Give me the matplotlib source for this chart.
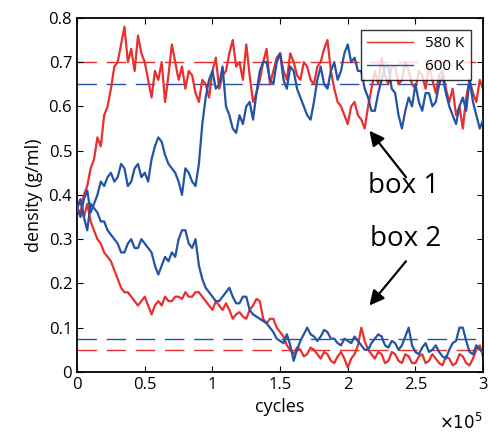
import matplotlib.pyplot as plt
import numpy as np

plt.rcParams['font.family'] = ['Open Sans', 'DejaVu Sans']

# cycles in units of 1e5, sampled every 2500 cycles
cycles = np.arange(121) * 0.025

red_box1 = [0.37, 0.36, 0.40, 0.42, 0.46, 0.48, 0.53, 0.51, 0.58, 0.60,
            0.64, 0.69, 0.70, 0.74, 0.78, 0.70, 0.73, 0.68, 0.76, 0.72,
            0.70, 0.66, 0.62, 0.68, 0.66, 0.70, 0.61, 0.67, 0.74, 0.70,
            0.66, 0.69, 0.64, 0.68, 0.67, 0.63, 0.61, 0.66, 0.65, 0.62,
            0.68, 0.71, 0.64, 0.67, 0.68, 0.72, 0.75, 0.69, 0.70, 0.66,
            0.74, 0.67, 0.61, 0.63, 0.66, 0.70, 0.73, 0.65, 0.68, 0.71,
            0.72, 0.68, 0.66, 0.72, 0.70, 0.67, 0.66, 0.70, 0.69, 0.66,
            0.65, 0.69, 0.70, 0.73, 0.75, 0.68, 0.64, 0.61, 0.60, 0.58,
            0.56, 0.60, 0.61, 0.58, 0.57, 0.55, 0.60, 0.64, 0.68, 0.65,
            0.71, 0.67, 0.65, 0.69, 0.69, 0.65, 0.66, 0.70, 0.68, 0.65,
            0.64, 0.68, 0.67, 0.64, 0.69, 0.66, 0.63, 0.67, 0.68, 0.64,
            0.61, 0.64, 0.58, 0.60, 0.55, 0.62, 0.66, 0.63, 0.61, 0.66,
            0.64]
red_box2 = [0.37, 0.39, 0.35, 0.38, 0.34, 0.32, 0.30, 0.29, 0.27, 0.26,
            0.25, 0.23, 0.21, 0.19, 0.18, 0.18, 0.17, 0.16, 0.15, 0.16,
            0.17, 0.15, 0.13, 0.15, 0.16, 0.15, 0.17, 0.16, 0.16, 0.17,
            0.17, 0.165, 0.18, 0.17, 0.17, 0.18, 0.18, 0.17, 0.16, 0.15,
            0.14, 0.16, 0.15, 0.14, 0.155, 0.14, 0.12, 0.13, 0.135, 0.125,
            0.12, 0.14, 0.15, 0.165, 0.16, 0.12, 0.11, 0.12, 0.12, 0.10,
            0.09, 0.08, 0.06, 0.05, 0.04, 0.055, 0.05, 0.035, 0.04, 0.055,
            0.05, 0.04, 0.03, 0.045, 0.04, 0.025, 0.02, 0.035, 0.045, 0.03,
            0.01, 0.03, 0.04, 0.06, 0.10, 0.07, 0.05, 0.04, 0.03, 0.045,
            0.04, 0.02, 0.025, 0.045, 0.04, 0.025, 0.02, 0.04, 0.035, 0.02,
            0.02, 0.035, 0.04, 0.02, 0.025, 0.04, 0.03, 0.02, 0.015, 0.035,
            0.03, 0.015, 0.02, 0.04, 0.035, 0.02, 0.015, 0.03, 0.05, 0.06,
            0.035]
blue_box1 = [0.37, 0.35, 0.39, 0.41, 0.36, 0.38, 0.40, 0.43, 0.42, 0.44,
             0.45, 0.43, 0.44, 0.47, 0.46, 0.42, 0.43, 0.46, 0.47, 0.44,
             0.45, 0.43, 0.48, 0.51, 0.53, 0.52, 0.49, 0.47, 0.46, 0.45,
             0.43, 0.40, 0.46, 0.45, 0.43, 0.42, 0.47, 0.56, 0.62, 0.66,
             0.68, 0.64, 0.65, 0.69, 0.60, 0.58, 0.55, 0.54, 0.58, 0.56,
             0.60, 0.61, 0.57, 0.63, 0.68, 0.70, 0.70, 0.66, 0.65, 0.70,
             0.72, 0.66, 0.64, 0.69, 0.68, 0.64, 0.62, 0.60, 0.58, 0.57,
             0.61, 0.66, 0.69, 0.65, 0.64, 0.68, 0.70, 0.66, 0.68, 0.72,
             0.74, 0.70, 0.71, 0.68, 0.68, 0.64, 0.62, 0.59, 0.59, 0.63,
             0.66, 0.69, 0.69, 0.64, 0.63, 0.58, 0.55, 0.59, 0.62, 0.60,
             0.65, 0.61, 0.59, 0.63, 0.63, 0.60, 0.61, 0.65, 0.67, 0.63,
             0.60, 0.58, 0.56, 0.60, 0.62, 0.59, 0.66, 0.61, 0.58, 0.55,
             0.57]
blue_box2 = [0.37, 0.39, 0.35, 0.32, 0.38, 0.37, 0.36, 0.34, 0.34, 0.32,
             0.31, 0.30, 0.29, 0.27, 0.27, 0.29, 0.30, 0.28, 0.28, 0.30,
             0.29, 0.28, 0.27, 0.24, 0.22, 0.24, 0.26, 0.25, 0.27, 0.26,
             0.30, 0.32, 0.32, 0.29, 0.28, 0.30, 0.24, 0.21, 0.19, 0.18,
             0.17, 0.16, 0.16, 0.17, 0.18, 0.19, 0.17, 0.155, 0.155, 0.17,
             0.17, 0.14, 0.13, 0.125, 0.12, 0.115, 0.11, 0.10, 0.09, 0.075,
             0.07, 0.065, 0.085, 0.06, 0.025, 0.05, 0.07, 0.085, 0.10, 0.085,
             0.08, 0.07, 0.08, 0.095, 0.09, 0.075, 0.075, 0.065, 0.06, 0.075,
             0.07, 0.065, 0.08, 0.07, 0.06, 0.05, 0.05, 0.065, 0.075, 0.085,
             0.08, 0.06, 0.055, 0.07, 0.065, 0.05, 0.06, 0.08, 0.10, 0.06,
             0.045, 0.04, 0.055, 0.065, 0.045, 0.05, 0.06, 0.045, 0.035, 0.03,
             0.05, 0.065, 0.07, 0.10, 0.10, 0.07, 0.045, 0.04, 0.06, 0.05,
             0.045]

# reference densities (dashed)
red_ref = [0.70, 0.05]
blue_ref = [0.65, 0.075]

red = '#e8302f'
blue = '#2453a6'

fig = plt.figure(figsize=(4.88, 4.36), dpi=100)
ax = fig.add_axes([0.158, 0.147, 0.832, 0.812])

for v in red_ref:
    ax.axhline(v, color=red, lw=1.0, dashes=(14, 7), zorder=1)
for v in blue_ref:
    ax.axhline(v, color=blue, lw=1.0, dashes=(14, 7), zorder=1)

ax.plot(cycles, red_box1, color=red, lw=1.6, label='580 K', zorder=2)
ax.plot(cycles, red_box2, color=red, lw=1.6, zorder=2)
ax.plot(cycles, blue_box1, color=blue, lw=1.6, label='600 K', zorder=3)
ax.plot(cycles, blue_box2, color=blue, lw=1.6, zorder=3)

ax.set_xlim(0, 3)
ax.set_ylim(0, 0.8)
ax.set_xticks(np.arange(0, 3.01, 0.5))
ax.set_xticklabels(['0', '0.5', '1', '1.5', '2', '2.5', '3'])
ax.set_yticks(np.arange(0, 0.81, 0.1))
ax.set_yticklabels(['0', '0.1', '0.2', '0.3', '0.4', '0.5', '0.6', '0.7', '0.8'])
ax.tick_params(direction='in', top=True, right=True, labelsize=12, length=4)
for s in ax.spines.values():
    s.set_linewidth(1.3)

ax.set_xlabel('cycles', fontsize=13)
ax.set_ylabel('density (g/ml)', fontsize=13)
fig.text(0.945, 0.015, r'$\times10^5$', fontsize=12, ha='center')

leg = ax.legend(loc='upper right', fontsize=11, frameon=True, fancybox=False,
                edgecolor='black', borderaxespad=0.8, handlelength=3)
leg.get_frame().set_linewidth(1.0)
for line in leg.get_lines():
    line.set_linewidth(1.0)

arrow = dict(arrowstyle='-|>', color='black', lw=1.6, mutation_scale=22,
             shrinkA=0, shrinkB=0)
ax.annotate('', xy=(2.16, 0.545), xytext=(2.43, 0.44), arrowprops=arrow)
ax.text(2.41, 0.42, 'box 1', fontsize=20, ha='center', va='center')
ax.annotate('', xy=(2.16, 0.15), xytext=(2.43, 0.25), arrowprops=arrow)
ax.text(2.43, 0.30, 'box 2', fontsize=20, ha='center', va='center')

fig.savefig('out.png', dpi=100)
